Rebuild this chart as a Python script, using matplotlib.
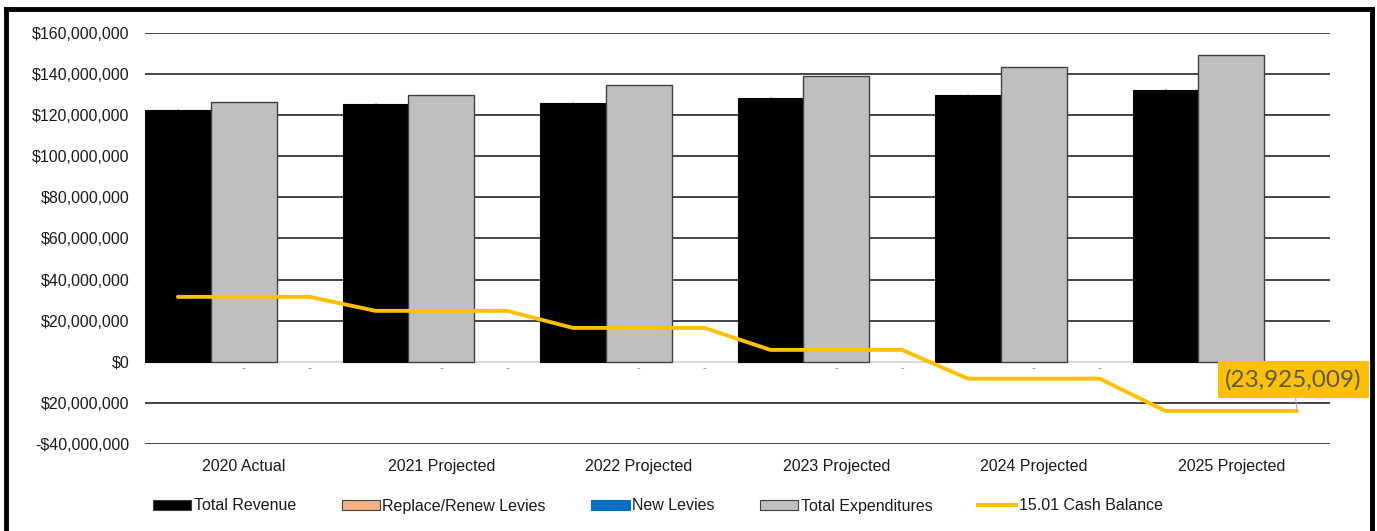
import numpy as np
import matplotlib.pyplot as plt
from matplotlib.patches import Patch
from matplotlib.lines import Line2D

# Budget projection data
years = ["2020 Actual", "2021 Projected", "2022 Projected",
         "2023 Projected", "2024 Projected", "2025 Projected"]
total_revenue = [122.5e6, 125.5e6, 126.0e6, 128.5e6, 130.0e6, 132.3e6]
replace_renew_levies = [0, 0, 0, 0, 0, 0]
new_levies = [0, 0, 0, 0, 0, 0]
total_expenditures = [126.3e6, 130.0e6, 134.8e6, 139.0e6, 143.5e6, 149.2e6]
cash_balance = [31.6e6, 24.8e6, 16.5e6, 5.8e6, -8.2e6, -23925009]

ytick_vals = [-40e6, -20e6, 0, 20e6, 40e6, 60e6, 80e6, 100e6, 120e6, 140e6, 160e6]
ytick_labels = ["-$40,000,000", "$20,000,000", "$0", "$20,000,000", "$40,000,000",
                "$60,000,000", "$80,000,000", "$100,000,000", "$120,000,000",
                "$140,000,000", "$160,000,000"]

plt.rcParams['font.family'] = ['Liberation Sans', 'DejaVu Sans']

fig = plt.figure(figsize=(13.77, 5.31), dpi=100)
ax = fig.add_axes([145/1377, 1 - 444/531, 1185/1377, 411/531])

x = np.arange(len(years))
w = 1/3

# gridlines behind everything
for v in ytick_vals:
    if v == 0:
        continue
    ax.axhline(v, color='#262626', lw=1.2, zorder=0)

ax.bar(x - w, total_revenue, width=w, color='black', edgecolor='black', lw=0.8, zorder=2)
ax.bar(x, total_expenditures, width=w, color='#bfbfbf', edgecolor='#404040', lw=1.0, zorder=2)
ax.axhline(0, color='#d9d9d9', lw=1.5, zorder=1)

# zero-value labels for the levy series (last year's sit under the callout)
for i in range(len(years)):
    ax.text(x[i] - w, total_revenue[i], "-", ha='center', va='center',
            fontsize=5, color='#7f7f7f', zorder=3)
    if i == len(years) - 1:
        continue
    for xx, v in [(x[i], replace_renew_levies[i]), (x[i] + w, new_levies[i])]:
        if v == 0:
            ax.text(xx, -0.8e6, "-", ha='center', va='top', fontsize=8, color='#7f7f7f')

# cash balance, held flat across each year's slots
lx, ly = [], []
for i, v in enumerate(cash_balance):
    lx += [x[i] - w, x[i], x[i] + w]
    ly += [v, v, v]
ax.plot(lx, ly, color='#FFC000', lw=2.8, zorder=4, solid_capstyle='round')

ax.annotate("(23,925,009)", xy=(x[-1] + w, cash_balance[-1]), xytext=(5.315, -8.6e6),
            textcoords='data', ha='center', va='center', fontsize=17.5,
            family=['Lato', 'DejaVu Sans'], color='#595959',
            bbox=dict(boxstyle='square,pad=0.3', fc='#FFC000', ec='none'),
            arrowprops=dict(arrowstyle='-', color='#a6a6a6', lw=0.7, shrinkA=0, shrinkB=0),
            annotation_clip=False, zorder=5)

ax.set_xlim(-0.5, len(years) - 0.5)
ax.set_ylim(-40e6, 160e6)
ax.set_yticks(ytick_vals)
ax.set_yticklabels(ytick_labels)
ax.set_xticks(x)
ax.set_xticklabels(years)
ax.tick_params(axis='y', length=0, pad=11, labelsize=11.5, labelcolor='#1a1a1a')
ax.tick_params(axis='x', length=0, pad=11, labelsize=11.5, labelcolor='#1a1a1a')
for s in ax.spines.values():
    s.set_visible(False)

handles = [
    Patch(facecolor='black', edgecolor='#404040', lw=0.8),
    Patch(facecolor='#F4B183', edgecolor='#404040', lw=0.8),
    Patch(facecolor='#0070C0', edgecolor='#0070C0', lw=0.8),
    Patch(facecolor='#bfbfbf', edgecolor='#404040', lw=0.8),
    Line2D([0], [0], color='#FFC000', lw=2.8),
]
labels = ["Total Revenue", "Replace/Renew Levies", "New Levies",
          "Total Expenditures", "15.01 Cash Balance"]
fig.legend(handles, labels, loc='center', bbox_to_anchor=(658/1377, 1 - 506/531),
           ncol=5, frameon=False, fontsize=11.5, handlelength=2.4, handleheight=0.55,
           handletextpad=0.15, columnspacing=2.85, labelcolor='#1a1a1a')

# outer frame (top, left, right)
fig.add_artist(Line2D([6/1377, 6/1377], [0, 1 - 9/531], color='black', lw=3.5,
                      transform=fig.transFigure))
fig.add_artist(Line2D([6/1377, 1372/1377], [1 - 9/531, 1 - 9/531], color='black', lw=3.5,
                      transform=fig.transFigure))
fig.add_artist(Line2D([1372/1377, 1372/1377], [0, 1 - 9/531], color='black', lw=3.5,
                      transform=fig.transFigure))

fig.savefig("out.png", dpi=100)
